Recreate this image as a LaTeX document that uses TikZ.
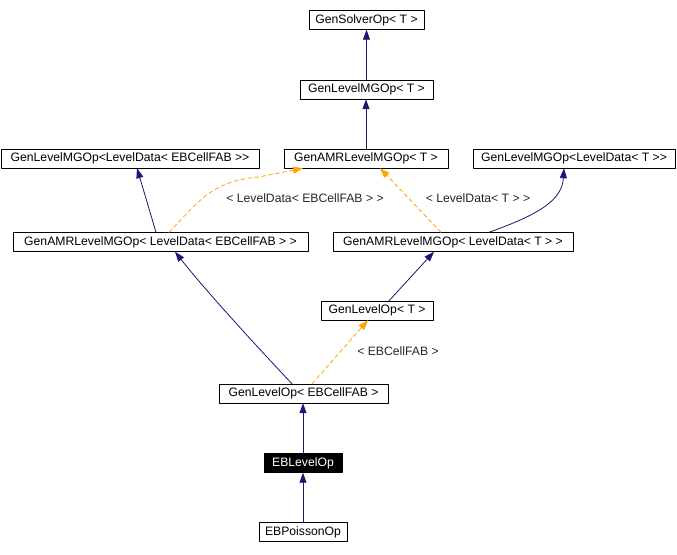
\documentclass[tikz,border=0pt]{standalone}
\usepackage{fontspec}
\setmainfont{Liberation Sans}
\usepackage{xcolor}
\usetikzlibrary{arrows.meta}
\definecolor{navyline}{RGB}{25,25,112}
\definecolor{tplorange}{RGB}{255,165,0}

\begin{document}
\begin{tikzpicture}[x=1pt,y=-1pt, font=\fontsize{12.2}{14}\selectfont, line cap=round, line join=round]
				\useasboundingbox (0,0) rectangle (677,554);
				
				% ===== style =====
				\tikzset{cls/.style={draw=black, fill=white, inner sep=0pt, minimum height=19pt},
					curcls/.style={draw=black, fill=black, text=white, inner sep=0pt, minimum height=19pt},
					inh/.style={draw=navyline, line width=0.8pt, -{Triangle[width=7pt,length=10pt]}},
					tpl/.style={draw=tplorange, line width=0.8pt, dash pattern=on 4pt off 3pt, -{Triangle[width=7pt,length=10pt]}},
					lbl/.style={inner sep=0pt, text=black!85}}
				
				% ===== các lớp =====
				\node[cls, minimum width=115pt] (solver) at (366.5,20) {GenSolverOp< T >};
				\node[cls, minimum width=133pt] (levelmg) at (366.5,89.5) {GenLevelMGOp< T >};
				\node[cls, minimum width=258pt] (levelmgeb) at (130,158.5) {GenLevelMGOp<LevelData< EBCellFAB >{}>};
				\node[cls, minimum width=164pt] (amrmg) at (366,158.5) {GenAMRLevelMGOp< T >};
				\node[cls, minimum width=202pt] (levelmgT) at (574,158.5) {GenLevelMGOp<LevelData< T >{}>};
				\node[cls, minimum width=295pt] (amreb) at (160.5,242) {GenAMRLevelMGOp< LevelData< EBCellFAB > >};
				\node[cls, minimum width=240pt] (amrT) at (453,242) {GenAMRLevelMGOp< LevelData< T > >};
				\node[cls, minimum width=112pt] (levelT) at (377,310.5) {GenLevelOp< T >};
				\node[cls, minimum width=169pt] (leveleb) at (303.5,393.5) {GenLevelOp< EBCellFAB >};
				\node[curcls, minimum width=78pt] (eblevel) at (303,463) {EBLevelOp};
				\node[cls, minimum width=88pt] (poisson) at (303,532) {EBPoissonOp};
				
				% ===== nhãn template =====
				\node[lbl] (lblA) at (305,198) {< LevelData< EBCellFAB > >};
				\node[lbl] (lblB) at (478,198) {< LevelData< T > >};
				\node[lbl] (lblC) at (398,351) {< EBCellFAB >};
				
				% ===== kế thừa =====
				\draw[inh] (levelmg.north) -- (solver.south);
				\draw[inh] (amrmg.north) -- (amrmg.north |- levelmg.south);
				\draw[inh] ([xshift=-4.5pt]amreb.north) -- ([xshift=7pt]levelmgeb.south);
				\draw[inh] ([xshift=36pt]amrT.north) .. controls (540,214) and (562,200) .. ([xshift=-10pt]levelmgT.south);
				\draw[inh] ([xshift=12pt]levelT.north) -- ([xshift=-19pt]amrT.south);
				\draw[inh] ([xshift=-11.5pt]leveleb.north) .. controls (260,350) and (205,290) .. ([xshift=14.5pt]amreb.south);
				\draw[inh] (eblevel.north) -- (eblevel.north |- leveleb.south);
				\draw[inh] (poisson.north) -- (poisson.north |- eblevel.south);
				
				% ===== template =====
				\draw[tpl] ([xshift=8.5pt]amreb.north) .. controls (200,200) and (212,181) .. (259,177) -- ([xshift=-63pt]amrmg.south);
				\draw[tpl] ([xshift=-12pt]amrT.north) -- ([xshift=14pt]amrmg.south);
				\draw[tpl] ([xshift=8.5pt]leveleb.north) -- ([xshift=-9pt]levelT.south);
			\end{tikzpicture}
\end{document}
